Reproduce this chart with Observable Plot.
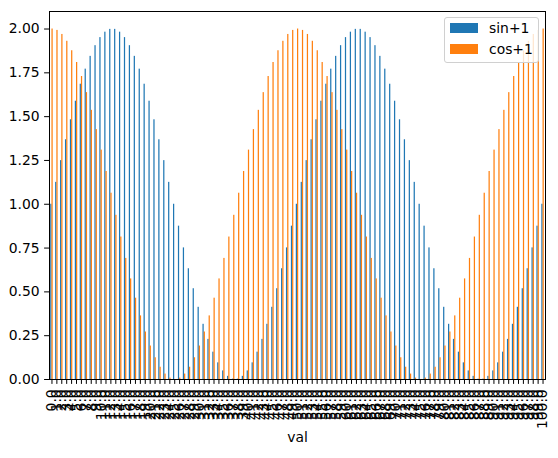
<!DOCTYPE html>
<html>
<head>
<meta charset="utf-8">
<script src="https://cdn.jsdelivr.net/npm/d3@7"></script>
<script src="https://cdn.jsdelivr.net/npm/@observablehq/plot@0.6"></script>
<style>
  html, body { margin: 0; padding: 0; background: white; }
  #wrap { position: relative; width: 558px; height: 458px; font-family: "DejaVu Sans", sans-serif; }
  #legend { position: absolute; left: 444px; top: 17px; width: 93px; height: 44px;
    border: 1px solid #d0d0d0; border-radius: 3px; background: rgba(255,255,255,0.8); }
  .sw { position: absolute; left: 5px; width: 28px; height: 10px; }
  .lt { position: absolute; left: 44px; font-size: 13.9px; line-height: 14px; color: black; }
</style>
</head>
<body>
<div id="wrap">
  <div id="chart"></div>
  <div id="legend">
    <div class="sw" style="top:5px;background:#1f77b4"></div>
    <div class="lt" style="top:3px">sin+1</div>
    <div class="sw" style="top:26px;background:#ff7f0e"></div>
    <div class="lt" style="top:24px">cos+1</div>
  </div>
</div>
<script>
const vals = [0,1,2,3,4,5,6,7,8,9,10,11,12,13,14,15,16,17,18,19,20,21,22,23,24,25,26,27,28,29,30,31,32,33,34,35,36,37,38,39,40,41,42,43,44,45,46,47,48,49,50,51,52,53,54,55,56,57,58,59,60,61,62,63,64,65,66,67,68,69,70,71,72,73,74,75,76,77,78,79,80,81,82,83,84,85,86,87,88,89,90,91,92,93,94,95,96,97,98,99,100];

const sinPlus1 = [
 1.000,1.125,1.249,1.368,1.482,1.588,1.685,1.771,1.844,1.905,
 1.951,1.982,1.998,1.998,1.982,1.951,1.905,1.844,1.771,1.685,
 1.588,1.482,1.368,1.249,1.125,1.000,0.875,0.751,0.632,0.518,
 0.412,0.315,0.229,0.156,0.095,0.049,0.018,0.002,0.002,0.018,
 0.049,0.095,0.156,0.229,0.315,0.412,0.518,0.632,0.751,0.875,
 1.000,1.125,1.249,1.368,1.482,1.588,1.685,1.771,1.844,1.905,
 1.951,1.982,1.998,1.998,1.982,1.951,1.905,1.844,1.771,1.685,
 1.588,1.482,1.368,1.249,1.125,1.000,0.875,0.751,0.632,0.518,
 0.412,0.315,0.229,0.156,0.095,0.049,0.018,0.002,0.002,0.018,
 0.049,0.095,0.156,0.229,0.315,0.412,0.518,0.632,0.751,0.875,
 1.000];

const cosPlus1 = [
 2.000,1.992,1.969,1.930,1.876,1.809,1.729,1.637,1.536,1.426,
 1.309,1.187,1.063,0.937,0.813,0.691,0.574,0.464,0.363,0.271,
 0.191,0.124,0.070,0.031,0.008,0.000,0.008,0.031,0.070,0.124,
 0.191,0.271,0.363,0.464,0.574,0.691,0.813,0.937,1.063,1.187,
 1.309,1.426,1.536,1.637,1.729,1.809,1.876,1.930,1.969,1.992,
 2.000,1.992,1.969,1.930,1.876,1.809,1.729,1.637,1.536,1.426,
 1.309,1.187,1.063,0.937,0.813,0.691,0.574,0.464,0.363,0.271,
 0.191,0.124,0.070,0.031,0.008,0.000,0.008,0.031,0.070,0.124,
 0.191,0.271,0.363,0.464,0.574,0.691,0.813,0.937,1.063,1.187,
 1.309,1.426,1.536,1.637,1.729,1.809,1.876,1.930,1.969,1.992,
 2.000];

const yTicks = [0, 0.25, 0.5, 0.75, 1.0, 1.25, 1.5, 1.75, 2.0];

const rows = vals.map((v, i) => ({val: v, sin: sinPlus1[i], cos: cosPlus1[i]}));

const W = 558, H = 458, ml = 49, mr = 13, mt = 11, mb = 79;
const bw = (W - ml - mr) / vals.length;

const chart = Plot.plot({
  width: W, height: H,
  marginLeft: ml, marginRight: mr, marginTop: mt, marginBottom: mb,
  style: {fontFamily: "DejaVu Sans", fontSize: "13.9px", background: "white", color: "black", overflow: "visible"},
  x: {type: "band", domain: vals, padding: 0, label: null},
  y: {domain: [0, 2.1], label: null},
  marks: [
    Plot.barY(rows, {x: "val", y: "sin", fill: "#1f77b4", insetLeft: bw * 0.25, insetRight: bw * 0.5}),
    Plot.barY(rows, {x: "val", y: "cos", fill: "#ff7f0e", insetLeft: bw * 0.5, insetRight: bw * 0.25}),
    Plot.axisX({tickRotate: -90, tickFormat: d => d.toFixed(1), tickSize: 4.9, tickPadding: 4.9, label: null, fontSize: 13.9}),
    Plot.axisY({ticks: yTicks, tickFormat: d => d.toFixed(2), tickSize: 4.9, tickPadding: 4.9, label: null, fontSize: 13.9}),
    Plot.frame({stroke: "black", strokeWidth: 1}),
    Plot.text(["val"], {frameAnchor: "bottom", dy: 62, fontSize: 13.9, fill: "black"})
  ]
});
document.getElementById("chart").appendChild(chart);
</script>
</body>
</html>
